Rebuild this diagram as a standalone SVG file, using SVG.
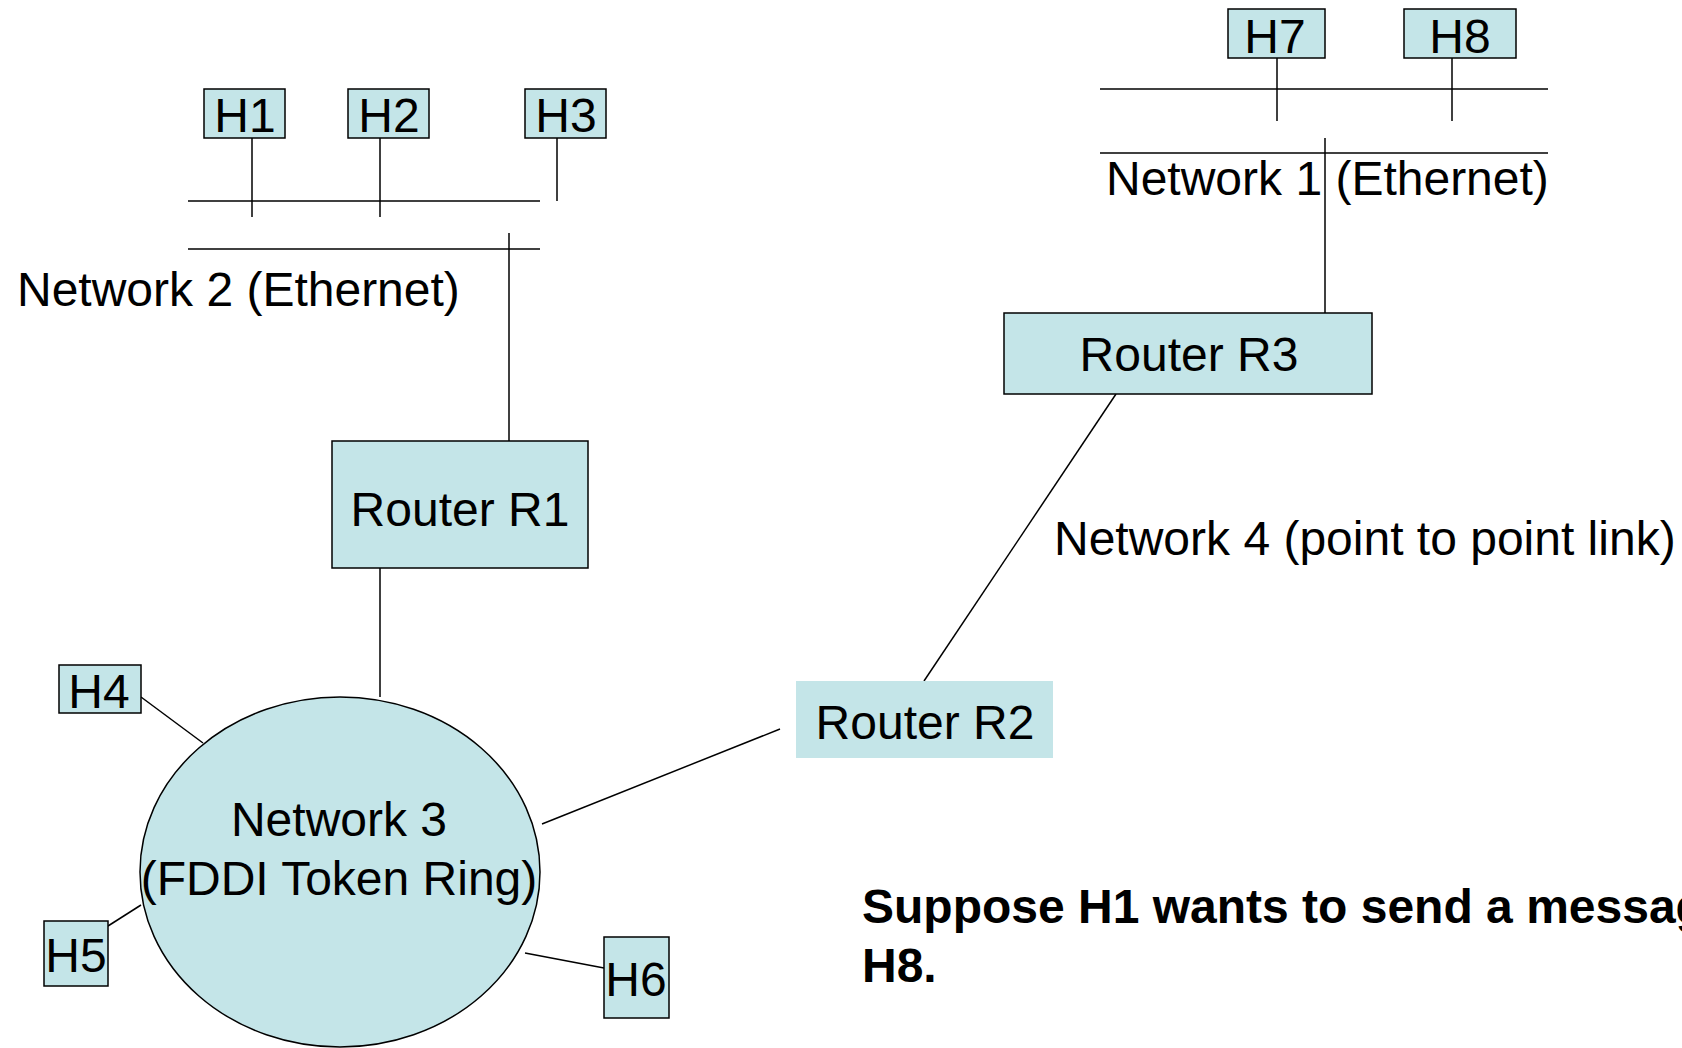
<svg xmlns="http://www.w3.org/2000/svg" width="1682" height="1048" viewBox="0 0 1682 1048">
<style>
.box{fill:#C4E5E8;stroke:#000;stroke-width:1.5}
.nobox{fill:#C4E5E8;stroke:none}
.ln{stroke:#000;stroke-width:1.5;fill:none}
text{font-family:"Liberation Sans",Arial,sans-serif;font-size:48px;fill:#000}
.c{text-anchor:middle}
.b{font-weight:bold}
</style>
<rect width="1682" height="1048" fill="#fff"/>
<g id="connectors">
<line class="ln" x1="188" y1="201" x2="540" y2="201"/>
<line class="ln" x1="188" y1="249" x2="540" y2="249"/>
<line class="ln" x1="252" y1="138" x2="252" y2="217"/>
<line class="ln" x1="380" y1="138" x2="380" y2="217"/>
<line class="ln" x1="557" y1="138" x2="557" y2="201"/>
<line class="ln" x1="509" y1="233" x2="509" y2="441"/>
<line class="ln" x1="380" y1="568" x2="380" y2="697"/>
<line class="ln" x1="1100" y1="89" x2="1548" y2="89"/>
<line class="ln" x1="1100" y1="153" x2="1548" y2="153"/>
<line class="ln" x1="1277" y1="58" x2="1277" y2="121"/>
<line class="ln" x1="1452" y1="58" x2="1452" y2="121"/>
<line class="ln" x1="1325" y1="138" x2="1325" y2="313"/>
<line class="ln" x1="1116" y1="394" x2="924" y2="681"/>
<line class="ln" x1="542" y1="824" x2="780" y2="729"/>
<line class="ln" x1="141" y1="697" x2="203" y2="743"/>
<line class="ln" x1="108" y1="926" x2="141" y2="905"/>
<line class="ln" x1="525" y1="953" x2="604" y2="968"/>
</g>
<g id="H1"><rect class="box" x="204" y="89" width="81" height="49"/><text class="c" x="245" y="132">H1</text></g>
<g id="H2"><rect class="box" x="348" y="89" width="81" height="49"/><text class="c" x="389" y="132">H2</text></g>
<g id="H3"><rect class="box" x="525" y="89" width="81" height="49"/><text class="c" x="566" y="132">H3</text></g>
<g id="H7"><rect class="box" x="1228" y="9" width="97" height="49"/><text class="c" x="1275" y="53">H7</text></g>
<g id="H8"><rect class="box" x="1404" y="9" width="112" height="49"/><text class="c" x="1460" y="53">H8</text></g>
<g id="net2"><text x="17" y="306">Network 2 (Ethernet)</text></g>
<g id="net1"><text x="1106" y="195">Network 1 (Ethernet)</text></g>
<g id="R1"><rect class="box" x="332" y="441" width="256" height="127"/><text class="c" x="460" y="526">Router R1</text></g>
<g id="R3"><rect class="box" x="1004" y="313" width="368" height="81"/><text class="c" x="1189" y="371">Router R3</text></g>
<g id="R2"><rect class="nobox" x="796" y="681" width="257" height="77"/><text class="c" x="925" y="739">Router R2</text></g>
<g id="net4"><text x="1054" y="555">Network 4 (point to point link)</text></g>
<g id="net3"><ellipse class="box" cx="340" cy="872" rx="200" ry="175"/><text class="c" x="339" y="836">Network 3</text><text class="c" x="339" y="895">(FDDI Token Ring)</text></g>
<g id="H4"><rect class="box" x="59" y="665" width="82" height="48"/><text class="c" x="99" y="708">H4</text></g>
<g id="H5"><rect class="box" x="44" y="921" width="64" height="65"/><text class="c" x="76" y="972">H5</text></g>
<g id="H6"><rect class="box" x="604" y="937" width="65" height="81"/><text class="c" x="636" y="996">H6</text></g>
<g id="note"><text class="b" x="862" y="923">Suppose H1 wants to send a message to</text><text class="b" x="862" y="982">H8.</text></g>
</svg>
